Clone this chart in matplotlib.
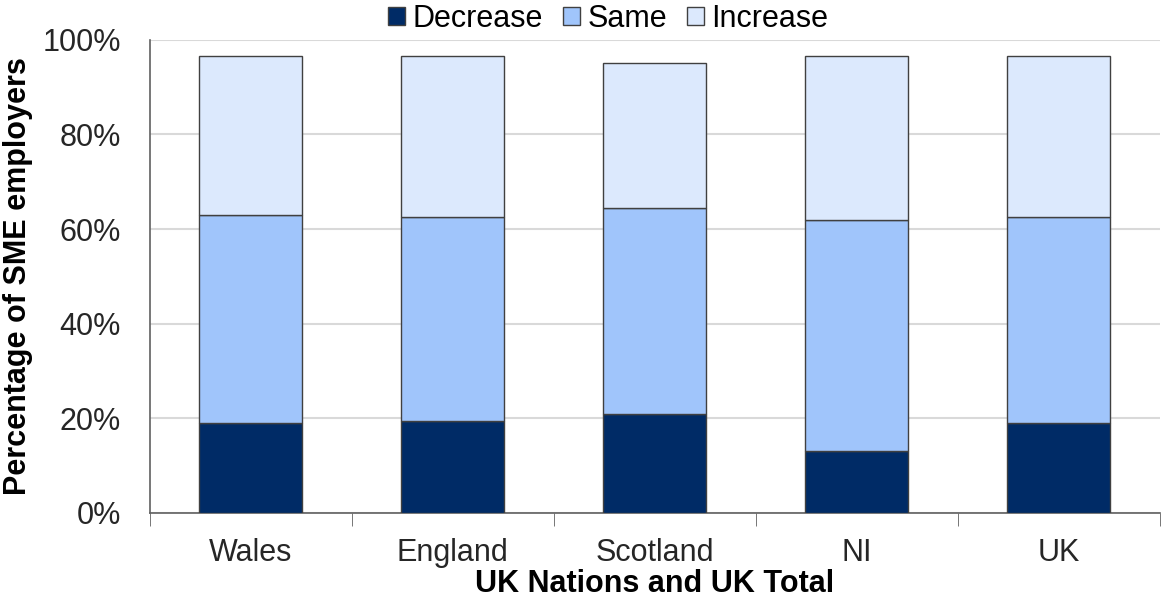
import numpy as np
import matplotlib
matplotlib.use("Agg")
from matplotlib import pyplot as plt
from matplotlib.ticker import PercentFormatter

plt.rcParams['font.family'] = ['Liberation Sans', 'DejaVu Sans']

nations = ['Wales', 'England', 'Scotland', 'NI', 'UK']
decrease = [19.0, 19.5, 21.0, 13.0, 19.0]
same = [44.0, 43.0, 43.5, 49.0, 43.5]
increase = [33.5, 34.0, 30.5, 34.5, 34.0]

colors = ['#002B66', '#A0C5FB', '#DCE9FD']

fig = plt.figure(figsize=(11.62, 6.02), dpi=100)
ax = fig.add_axes([0.129, 0.148, 0.869, 0.786])

x = np.arange(len(nations))
dec = np.array(decrease)
sam = np.array(same)
inc = np.array(increase)
w = 0.51
ax.bar(x, dec, w, color=colors[0], edgecolor='#404040', linewidth=1, label='Decrease', zorder=3)
ax.bar(x, sam, w, bottom=dec, color=colors[1], edgecolor='#404040', linewidth=1, label='Same', zorder=3)
ax.bar(x, inc, w, bottom=dec + sam, color=colors[2], edgecolor='#404040', linewidth=1, label='Increase', zorder=3)

ax.set_xlim(-0.5, len(nations) - 0.5)
ax.set_ylim(0, 100)
ax.set_yticks(np.arange(0, 101, 20))
ax.yaxis.set_major_formatter(PercentFormatter(decimals=0))
ax.yaxis.grid(True, color='#D9D9D9', linewidth=1.5, zorder=0)

ax.set_xticks(x)
ax.set_xticklabels(nations)
ax.set_xticks(np.arange(-0.5, len(nations)), minor=True)
ax.tick_params(axis='x', which='major', length=0, labelsize=22, pad=18)
ax.tick_params(axis='x', which='minor', length=9, direction='out', color='#606060')
ax.tick_params(axis='y', length=0, labelsize=22, pad=21, colors='#262626')
ax.tick_params(axis='x', colors='#262626')

for side in ['top', 'right']:
    ax.spines[side].set_visible(False)
for side in ['left', 'bottom']:
    ax.spines[side].set_color('#606060')
    ax.spines[side].set_linewidth(1.2)

ax.set_xlabel('UK Nations and UK Total', fontsize=22, fontweight='bold', labelpad=1)
ax.set_ylabel('Percentage of SME employers', fontsize=22, fontweight='bold', labelpad=7)

ax.legend(loc='lower center', bbox_to_anchor=(0.454, 1.012), ncol=3, frameon=False,
          fontsize=22, handlelength=0.55, handleheight=0.55, handletextpad=0.25,
          columnspacing=0.65, borderaxespad=0, borderpad=0)

fig.savefig('out.png', dpi=100)
